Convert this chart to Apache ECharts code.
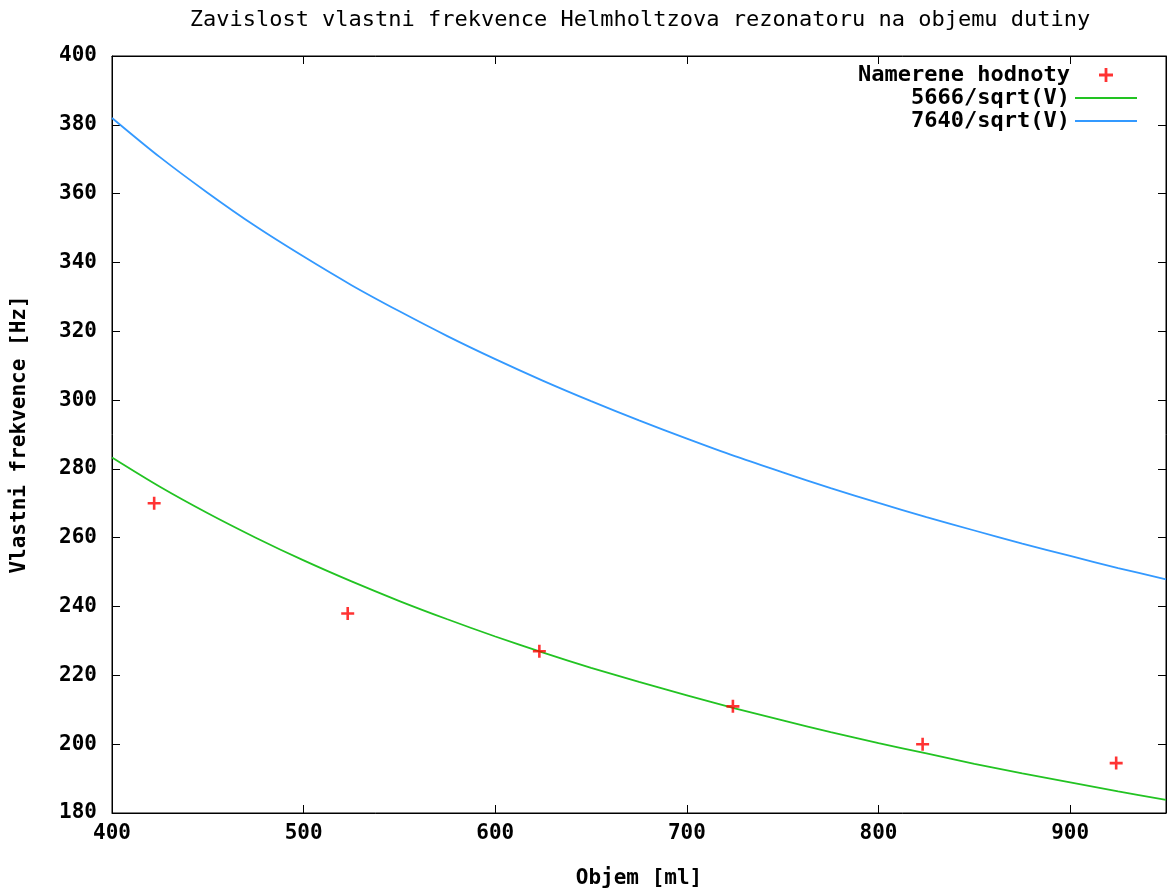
<!DOCTYPE html>
<html>
<head>
<meta charset="utf-8">
<script src="https://cdn.jsdelivr.net/npm/echarts@6/dist/echarts.min.js"></script>
<style>
  html, body { margin: 0; padding: 0; background: #fff; }
  #main { width: 1167px; height: 888px; }
</style>
</head>
<body>
<div id="main"></div>
<script>
// namerene body
var measVolume = [422, 523, 623, 724, 823, 924];
var measFreq = [270, 238, 227, 211, 200, 194.5];

// krivky
var curveVolume = [400, 425, 450, 475, 500, 525, 550, 575, 600, 625, 650, 675,
    700, 725, 750, 775, 800, 825, 850, 875, 900, 925, 950];
var greenFreq = [283.3, 274.8, 267.1, 260.0, 253.4, 247.3, 241.6, 236.3, 231.3, 226.6, 222.2, 218.1,
    214.2, 210.4, 206.9, 203.5, 200.3, 197.3, 194.3, 191.5, 188.9, 186.3, 183.8];
var blueFreq = [382.0, 370.6, 360.2, 350.5, 341.7, 333.4, 325.8, 318.6, 311.9, 305.6, 299.7, 294.1,
    288.8, 283.7, 279.0, 274.4, 270.1, 266.0, 262.1, 258.3, 254.7, 251.2, 247.9];

var seriesNames = ['Namerene hodnoty', '5666/sqrt(V)', '7640/sqrt(V)'];

var mono = 'DejaVu Sans Mono';
var crossIcon = 'path://M4,0H6V4H10V6H6V10H4V6H0V4H4Z';
var lineIcon = 'path://M0,6H62V8H0Z';

function pairs(xs, ys) {
    return xs.map(function (x, i) { return [x, ys[i]]; });
}

function padName(name) {
    var s = name;
    while (s.length < 16) s = ' ' + s;
    return s;
}

var tickStyle = { show: true, inside: true, length: 8, lineStyle: { color: '#000', width: 1 } };
var lineStyle = { show: true, lineStyle: { color: '#000', width: 1 } };
var boldText = { fontFamily: mono, fontSize: 21, fontWeight: 'bold', color: '#000' };

var chart = echarts.init(document.getElementById('main'));

chart.setOption({
    backgroundColor: '#fff',
    animation: false,
    title: {
        text: 'Zavislost vlastni frekvence Helmholtzova rezonatoru na objemu dutiny',
        left: 635,
        textAlign: 'center',
        top: 4,
        textStyle: { fontFamily: mono, fontSize: 22, fontWeight: 'normal', color: '#000' }
    },
    legend: {
        data: [
            { name: seriesNames[0], icon: crossIcon },
            { name: seriesNames[1], icon: lineIcon },
            { name: seriesNames[2], icon: lineIcon }
        ],
        orient: 'vertical',
        align: 'right',
        right: 25,
        top: 59,
        itemWidth: 62,
        itemHeight: 14,
        itemGap: 1,
        formatter: function (n) { return padName(n); },
        textStyle: { fontFamily: mono, fontSize: 22, fontWeight: 'bold', color: '#000' }
    },
    grid: {
        left: 112,
        right: 1,
        top: 56,
        bottom: 75,
        outerBoundsMode: 'none',
        containLabel: false,
        show: true,
        borderColor: '#000',
        borderWidth: 1
    },
    xAxis: [{
        type: 'value',
        min: 400,
        max: 950,
        interval: 100,
        name: 'Objem [ml]',
        nameLocation: 'middle',
        nameGap: 55,
        nameMoveOverlap: false,
        nameTextStyle: boldText,
        axisLine: lineStyle,
        axisTick: tickStyle,
        splitLine: { show: false },
        axisLabel: Object.assign({ margin: 10, showMaxLabel: false }, boldText)
    }, {
        type: 'value',
        position: 'top',
        min: 400,
        max: 950,
        interval: 100,
        axisLine: lineStyle,
        axisTick: tickStyle,
        splitLine: { show: false },
        axisLabel: { show: false }
    }],
    yAxis: [{
        type: 'value',
        min: 180,
        max: 400,
        interval: 20,
        name: 'Vlastni frekvence [Hz]',
        nameLocation: 'middle',
        nameGap: 82,
        nameMoveOverlap: false,
        nameTextStyle: boldText,
        axisLine: lineStyle,
        axisTick: tickStyle,
        splitLine: { show: false },
        axisLabel: Object.assign({ margin: 15 }, boldText)
    }, {
        type: 'value',
        position: 'right',
        min: 180,
        max: 400,
        interval: 20,
        axisLine: lineStyle,
        axisTick: tickStyle,
        splitLine: { show: false },
        axisLabel: { show: false }
    }],
    series: [{
        name: seriesNames[0],
        type: 'scatter',
        symbol: crossIcon,
        symbolSize: 13,
        itemStyle: { color: '#ff0000' },
        data: pairs(measVolume, measFreq),
        z: 5
    }, {
        name: seriesNames[1],
        type: 'line',
        smooth: 0.3,
        symbol: 'none',
        lineStyle: { color: '#22c322', width: 1.8 },
        itemStyle: { color: '#22c322' },
        data: pairs(curveVolume, greenFreq)
    }, {
        name: seriesNames[2],
        type: 'line',
        smooth: 0.3,
        symbol: 'none',
        lineStyle: { color: '#3399ff', width: 1.8 },
        itemStyle: { color: '#3399ff' },
        data: pairs(curveVolume, blueFreq)
    }]
});
</script>
</body>
</html>
